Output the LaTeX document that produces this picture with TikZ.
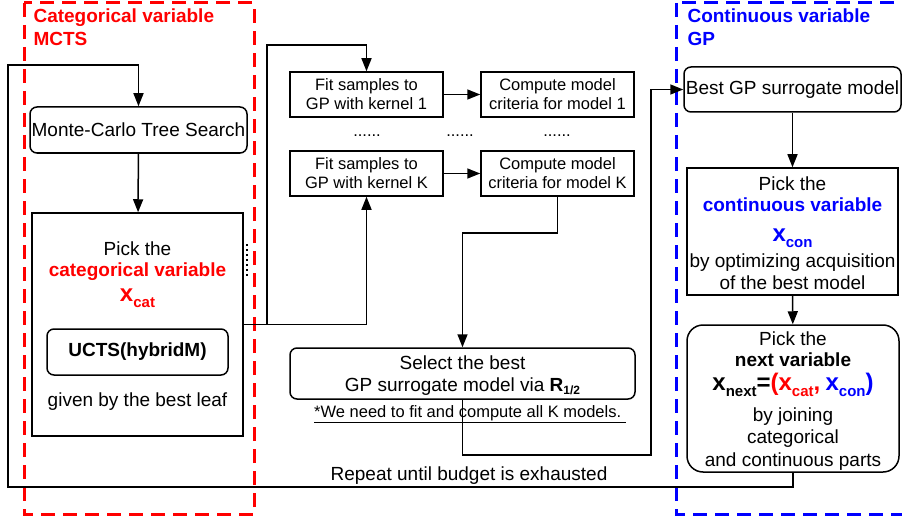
\documentclass[tikz,border=0pt]{standalone}
\usepackage{fontspec}
\setmainfont{Liberation Sans}
\usetikzlibrary{arrows.meta}

\newcommand{\xsub}[1]{{\fontsize{24}{24}\selectfont\bfseries x}\raisebox{-6pt}{\fontsize{15}{15}\selectfont\bfseries #1}}
\newcommand{\bigbf}[1]{{\fontsize{24}{24}\selectfont\bfseries #1}}
\newcommand{\mainfont}{\fontsize{19}{21.5}\selectfont}
\newcommand{\smallfont}{\fontsize{16.5}{19}\selectfont}

\tikzset{
  box/.style={draw, line width=1.5pt, inner sep=0pt, align=center, font=\mainfont},
  rbox/.style={box, rounded corners=7pt},
  smallbox/.style={box, font=\smallfont, minimum width=153pt, minimum height=45pt},
  arr/.style={line width=1.5pt, -{Triangle[length=13pt,width=10pt]}},
  frame/.style={line width=3pt, dash pattern=on 14pt off 8pt},
  title/.style={anchor=north west, align=left, font=\fontsize{19}{23}\selectfont\bfseries},
}

\begin{document}
\begin{tikzpicture}[x=1pt,y=-1pt]
\useasboundingbox (0,0) rectangle (902,516);
% dashed frames
\draw[frame, red] (24,3) rectangle (254,514);
\draw[frame, blue] (676,3) rectangle (912,514);
\node[title, text=red] (cattitle) at (30,5) {Categorical variable\\MCTS};
\node[title, text=blue] (contitle) at (684,5) {Continuous variable\\GP};

% MCTS part
\node[rbox, minimum width=217pt, minimum height=46pt] (mcts) at (138.5,130) {Monte-Carlo Tree Search};
\node[box, minimum width=211pt, minimum height=223pt] (pickcat) at (137.5,324.5) {};
\node[align=center, font=\mainfont, anchor=north] (pickcattxt) at (137.5,238)
  {Pick the\\\textcolor{red}{\bfseries categorical variable}\\[3pt]\textcolor{red}{\xsub{cat}}};
\node[rbox, minimum width=181pt, minimum height=46pt, font=\mainfont\bfseries] (ucts) at (137.5,352) {UCTS(hybridM)};
\node[font=\mainfont] (leaf) at (137.5,402) {given by the best leaf};
\draw[line width=2pt, dash pattern=on 2pt off 3pt] (247,244) -- (247,276);

% GP fitting
\node[smallbox] (fit1) at (366.5,94.5) {Fit samples to\\GP with kernel 1};
\node[smallbox] (comp1) at (557.5,94.5) {Compute model\\criteria for model 1};
\node[smallbox] (fitK) at (366.5,173.5) {Fit samples to\\GP with kernel K};
\node[smallbox] (compK) at (557.5,173.5) {Compute model\\criteria for model K};
\node[font=\smallfont] (dotsa) at (367,136) {......};
\node[font=\smallfont] (dotsb) at (460,136) {......};
\node[font=\smallfont] (dotsc) at (557,136) {......};
\node[rbox, minimum width=345pt, minimum height=51pt] (select) at (462.5,373.5) {};
\node[align=center, font=\mainfont] (selecttxt) at (462.5,375.5)
  {Select the best\\GP surrogate model via \textbf{R}\raisebox{-3pt}{\fontsize{12}{12}\selectfont\bfseries 1/2}};
\node[font=\smallfont] (note) at (470,414) {\underline{*We need to fit and compute all K models.~}};
\node[font=\mainfont] (repeat) at (469,476) {Repeat until budget is exhausted};

% continuous part
\node[rbox, minimum width=217pt, minimum height=45pt] (bestgp) at (792.5,89.5) {Best GP surrogate model};
\node[box, minimum width=211pt, minimum height=127pt] (pickcon) at (792.5,231.5) {};
\node[align=center, font=\mainfont] (pickcontxt) at (792.5,233)
  {Pick the\\\textcolor{blue}{\bfseries continuous variable}\\[8pt]\textcolor{blue}{\xsub{con}}\\[5pt]by optimizing acquisition\\of the best model};
\node[box, rounded corners=16pt, minimum width=212pt, minimum height=147pt] (next) at (793,398.5) {};
\node[align=center, font=\mainfont, anchor=north] (nexttxt) at (793,328)
  {Pick the\\\textbf{next variable}\\[2pt]\xsub{next}\bigbf{=}\textcolor{red}{\bigbf{(}\xsub{cat}\bigbf{,}} \textcolor{blue}{\xsub{con}\bigbf{)}}\\[10pt]by joining\\categorical\\[2pt]and continuous parts};

% connectors
\coordinate (split) at (267,324.5);
\draw[arr] (next.south) -- ++(0,14) -| (8,65) -| (mcts.north);
\draw[arr] (mcts) -- (pickcat);
\draw[arr] (pickcat.east) -- (split) |- (366.5,45) -- (fit1.north);
\draw[arr] (split) -| (fitK.south);
\draw[arr] (fit1) -- (comp1);
\draw[arr] (fitK) -- (compK);
\draw[arr] (compK.south) -- ++(0,36) -| (select.north);
\draw[arr] (select.south) -- ++(0,55) -| (651,89.5) -- (bestgp.west);
\draw[arr] (bestgp) -- (pickcon);
\draw[arr] (pickcon) -- (next);
\end{tikzpicture}
\end{document}
